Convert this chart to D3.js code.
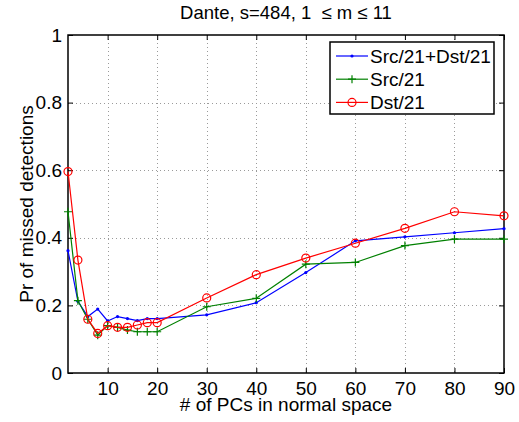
<!DOCTYPE html>
<html>
<head>
<meta charset="utf-8">
<script src="https://cdn.jsdelivr.net/npm/d3@7"></script>
<style>
  html, body { margin: 0; padding: 0; background: #fff; }
  svg { display: block; font-family: "Liberation Sans", Arial, Helvetica, sans-serif; }
</style>
</head>
<body>
<svg id="chart" width="519" height="422"></svg>
<script>
// Number of principal components in the normal subspace
const pcs = [2, 4, 6, 8, 10, 12, 14, 16, 18, 20, 30, 40, 50, 60, 70, 80, 90];

// Probability of missed detections for each feature set
const srcDst = [0.362, 0.212, 0.167, 0.189, 0.154, 0.167, 0.161, 0.155, 0.161, 0.161, 0.172, 0.208, 0.297, 0.391, 0.403, 0.415, 0.427];
const src    = [0.477, 0.214, 0.159, 0.112, 0.140, 0.135, 0.127, 0.122, 0.122, 0.122, 0.196, 0.221, 0.322, 0.327, 0.377, 0.396, 0.396];
const dst    = [0.596, 0.334, 0.159, 0.117, 0.140, 0.135, 0.135, 0.142, 0.149, 0.149, 0.222, 0.291, 0.340, 0.384, 0.428, 0.477, 0.465];

const xTicks = [10, 20, 30, 40, 50, 60, 70, 80, 90];
const yTicks = [0, 0.2, 0.4, 0.6, 0.8, 1];

const series = [
  { name: "Src/21+Dst/21", values: srcDst, color: "#0000ff", marker: "dot" },
  { name: "Src/21",        values: src,    color: "#008000", marker: "plus" },
  { name: "Dst/21",        values: dst,    color: "#ff0000", marker: "circle" }
];

const plot = { left: 68, right: 504, top: 35, bottom: 373 };
const fontSize = 19;

const svg = d3.select("#chart");
const x = d3.scaleLinear().domain([2, 90]).range([plot.left, plot.right]);
const y = d3.scaleLinear().domain([0, 1]).range([plot.bottom, plot.top]);

// Dotted grid
const grid = svg.append("g").attr("stroke", "#9a9a9a").attr("stroke-width", 1)
  .attr("stroke-dasharray", "1,3");
grid.selectAll("line.vx").data(xTicks.filter(d => d < 90)).join("line")
  .attr("x1", d => Math.round(x(d)) + 0.5).attr("x2", d => Math.round(x(d)) + 0.5)
  .attr("y1", plot.top).attr("y2", plot.bottom);
grid.selectAll("line.hy").data(yTicks.filter(d => d > 0 && d < 1)).join("line")
  .attr("x1", plot.left).attr("x2", plot.right)
  .attr("y1", d => Math.round(y(d)) + 0.5).attr("y2", d => Math.round(y(d)) + 0.5);

// Axes (ticks point inward, mirrored on top and right)
const tickLen = 5;
const axB = d3.axisBottom(x).tickValues(xTicks).tickSize(-tickLen).tickPadding(9).tickFormat(d3.format("d"));
const axT = d3.axisTop(x).tickValues(xTicks).tickSize(-tickLen).tickFormat("");
const axL = d3.axisLeft(y).tickValues(yTicks).tickSize(-tickLen).tickPadding(6).tickFormat(d => d === 0 || d === 1 ? d3.format("d")(d) : d3.format(".1f")(d));
const axR = d3.axisRight(y).tickValues(yTicks).tickSize(-tickLen).tickFormat("");

function styleAxis(g) {
  g.select(".domain").remove();
  g.selectAll(".tick line").attr("stroke", "#000");
  g.selectAll(".tick text").attr("fill", "#000").attr("font-size", fontSize)
    .attr("font-family", "Liberation Sans, Arial, sans-serif");
}
svg.append("g").attr("transform", `translate(0,${plot.bottom})`).call(axB).call(styleAxis);
svg.append("g").attr("transform", `translate(0,${plot.top})`).call(axT).call(styleAxis);
svg.append("g").attr("transform", `translate(${plot.left},0)`).call(axL).call(styleAxis);
svg.append("g").attr("transform", `translate(${plot.right},0)`).call(axR).call(styleAxis);

// Plot box
svg.append("rect")
  .attr("x", plot.left).attr("y", plot.top)
  .attr("width", plot.right - plot.left).attr("height", plot.bottom - plot.top)
  .attr("fill", "none").attr("stroke", "#000").attr("stroke-width", 1.5);

// Lines and markers
const line = d3.line().x((d, i) => x(pcs[i])).y(d => y(d));

function drawMarker(g, kind, color, cx, cy) {
  if (kind === "dot") {
    g.append("circle").attr("cx", cx).attr("cy", cy).attr("r", 1.6).attr("fill", color);
  } else if (kind === "plus") {
    g.append("path").attr("d", `M${cx - 4},${cy}H${cx + 4}M${cx},${cy - 4}V${cy + 4}`)
      .attr("stroke", color).attr("stroke-width", 1.2).attr("fill", "none");
  } else {
    g.append("circle").attr("cx", cx).attr("cy", cy).attr("r", 4)
      .attr("fill", "none").attr("stroke", color).attr("stroke-width", 1.2);
  }
}

series.forEach(s => {
  const g = svg.append("g");
  g.append("path").datum(s.values).attr("d", line)
    .attr("fill", "none").attr("stroke", s.color).attr("stroke-width", 1.2);
  s.values.forEach((v, i) => drawMarker(g, s.marker, s.color, x(pcs[i]), y(v)));
});

// Legend
const legend = svg.append("g");
legend.append("rect").attr("x", 330).attr("y", 42).attr("width", 164).attr("height", 72)
  .attr("fill", "#fff").attr("stroke", "#000").attr("stroke-width", 1.5);
series.forEach((s, i) => {
  const ly = 56 + i * 23.2;
  legend.append("line").attr("x1", 336).attr("x2", 368).attr("y1", ly).attr("y2", ly)
    .attr("stroke", s.color).attr("stroke-width", 1.2);
  drawMarker(legend, s.marker, s.color, 352, ly);
  legend.append("text").attr("x", 370).attr("y", ly + 6.5).attr("font-size", fontSize)
    .attr("fill", "#000").text(s.name);
});

// Title and axis labels
svg.append("text").attr("x", (plot.left + plot.right) / 2).attr("y", 19)
  .attr("text-anchor", "middle").attr("font-size", 18.5).attr("fill", "#000")
  .text("Dante, s=484, 1\u00a0 \u2264 m \u2264 11");
svg.append("text").attr("x", (plot.left + plot.right) / 2).attr("y", 411)
  .attr("text-anchor", "middle").attr("font-size", fontSize).attr("fill", "#000")
  .text("# of PCs in normal space");
svg.append("text")
  .attr("transform", `translate(33,${(plot.top + plot.bottom) / 2}) rotate(-90)`)
  .attr("text-anchor", "middle").attr("font-size", fontSize).attr("fill", "#000")
  .text("Pr of missed detections");
</script>
</body>
</html>
